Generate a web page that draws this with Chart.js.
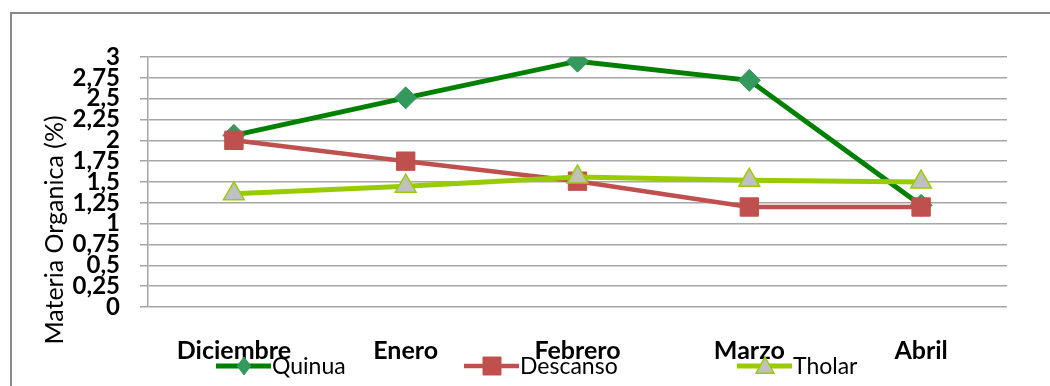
<!DOCTYPE html>
<html>
<head>
<meta charset="utf-8">
<script src="https://cdn.jsdelivr.net/npm/chart.js@4.4.1/dist/chart.umd.min.js"></script>
<style>
    html, body { margin: 0; padding: 0; background: #fff; overflow: hidden; }
    #frame { position: absolute; left: 10px; top: 12px; width: 1100px; height: 420px; border: 2px solid #8a8a8a; }
    #wrap { position: absolute; left: 0; top: 0; width: 1050px; height: 386px; }
</style>
</head>
<body>
<div id="frame"></div>
<div id="wrap"><canvas id="lineChart" width="1050" height="386"></canvas></div>
<script>
const months = ['Diciembre', 'Enero', 'Febrero', 'Marzo', 'Abril'];
const quinua = [2.06, 2.51, 2.95, 2.72, 1.22];
const descanso = [2.0, 1.75, 1.51, 1.2, 1.2];
const tholar = [1.36, 1.45, 1.56, 1.52, 1.5];
const yTicks = [0, 0.25, 0.5, 0.75, 1, 1.25, 1.5, 1.75, 2, 2.25, 2.5, 2.75, 3];
const yTitle = 'Materia Organica (%)';

const FONT = 'Lato, "Open Sans", sans-serif';
const GRID = '#a6a6a6';

// axis title + legend drawn by hand so they sit where the original has them
const extras = {
    id: 'extras',
    afterDraw(chart) {
        const c = chart.ctx;
        c.save();
        c.fillStyle = '#000';
        c.font = '25px ' + FONT;
        c.translate(55, 230);
        c.rotate(-Math.PI / 2);
        c.textAlign = 'center';
        c.textBaseline = 'middle';
        c.fillText(yTitle, 0, 0);
        c.restore();

        // legend
        const starts = [216, 464, 737];
        const y = 366;
        c.save();
        chart.data.datasets.forEach((ds, i) => {
            const x0 = starts[i];
            c.strokeStyle = ds.borderColor;
            c.lineWidth = ds.borderWidth;
            c.beginPath();
            c.moveTo(x0, y);
            c.lineTo(x0 + 55, y);
            c.stroke();
            c.fillStyle = ds.pointBackgroundColor;
            c.strokeStyle = ds.pointBorderColor;
            c.lineWidth = ds.pointBorderWidth;
            drawMarker(c, ds.pointStyle, x0 + 28, y, 9);
            c.fillStyle = '#000';
            c.font = '23px ' + FONT;
            c.textBaseline = 'middle';
            c.fillText(ds.label, x0 + 56, y + 1);
        });
        c.restore();
    }
};

function drawMarker(c, style, x, y, r) {
    c.beginPath();
    if (style === 'rectRot') {
        c.moveTo(x, y - r); c.lineTo(x + r * 0.75, y); c.lineTo(x, y + r); c.lineTo(x - r * 0.75, y);
    } else if (style === 'rect') {
        c.rect(x - r, y - r, 2 * r, 2 * r);
    } else {
        c.moveTo(x, y - r); c.lineTo(x + r, y + r * 0.8); c.lineTo(x - r, y + r * 0.8);
    }
    c.closePath();
    c.fill();
    c.stroke();
}

const ctx = document.getElementById('lineChart').getContext('2d');
const chart = new Chart(ctx, {
    type: 'line',
    data: {
        labels: months,
        datasets: [
            {
                label: 'Quinua',
                data: quinua,
                borderColor: '#008000',
                borderWidth: 5,
                pointStyle: 'rectRot',
                pointRadius: 11,
                pointBackgroundColor: '#33995c',
                pointBorderColor: '#33995c',
                pointBorderWidth: 1,
                order: 2
            },
            {
                label: 'Descanso',
                data: descanso,
                borderColor: '#c0504d',
                borderWidth: 4.5,
                pointStyle: 'rect',
                pointRadius: 13,
                pointBackgroundColor: '#c0504d',
                pointBorderColor: '#c0504d',
                pointBorderWidth: 1,
                order: 1
            },
            {
                label: 'Tholar',
                data: tholar,
                borderColor: '#99cc00',
                borderWidth: 5,
                pointStyle: 'triangle',
                pointRadius: 12,
                pointBackgroundColor: '#c0c0c0',
                pointBorderColor: '#99cc00',
                pointBorderWidth: 1.5,
                order: 0
            }
        ]
    },
    options: {
        responsive: false,
        animation: false,
        layout: { padding: { top: 57, right: 43, left: 0, bottom: 0 } },
        plugins: {
            legend: { display: false },
            tooltip: { enabled: false }
        },
        elements: { line: { tension: 0 } },
        scales: {
            x: {
                offset: true,
                grid: { display: false, drawTicks: false },
                border: { display: false },
                ticks: {
                    color: '#000',
                    font: { family: FONT, size: 25, weight: 'bold' },
                    padding: 29,
                    maxRotation: 0
                },
                afterFit(scale) { scale.height = 79; }
            },
            y: {
                min: 0,
                max: 3,
                afterBuildTicks(scale) { scale.ticks = yTicks.map(v => ({ value: v })); },
                grid: { color: GRID, lineWidth: 1.5, tickLength: 8, drawTicks: true },
                border: { color: GRID, width: 1.5 },
                ticks: {
                    autoSkip: false,
                    color: '#000',
                    padding: 20,
                    font: { family: FONT, size: 24, weight: 'bold' },
                    callback: v => String(v).replace('.', ',')
                },
                afterFit(scale) { scale.width = 148; }
            }
        }
    },
    plugins: [extras]
});
</script>
</body>
</html>
